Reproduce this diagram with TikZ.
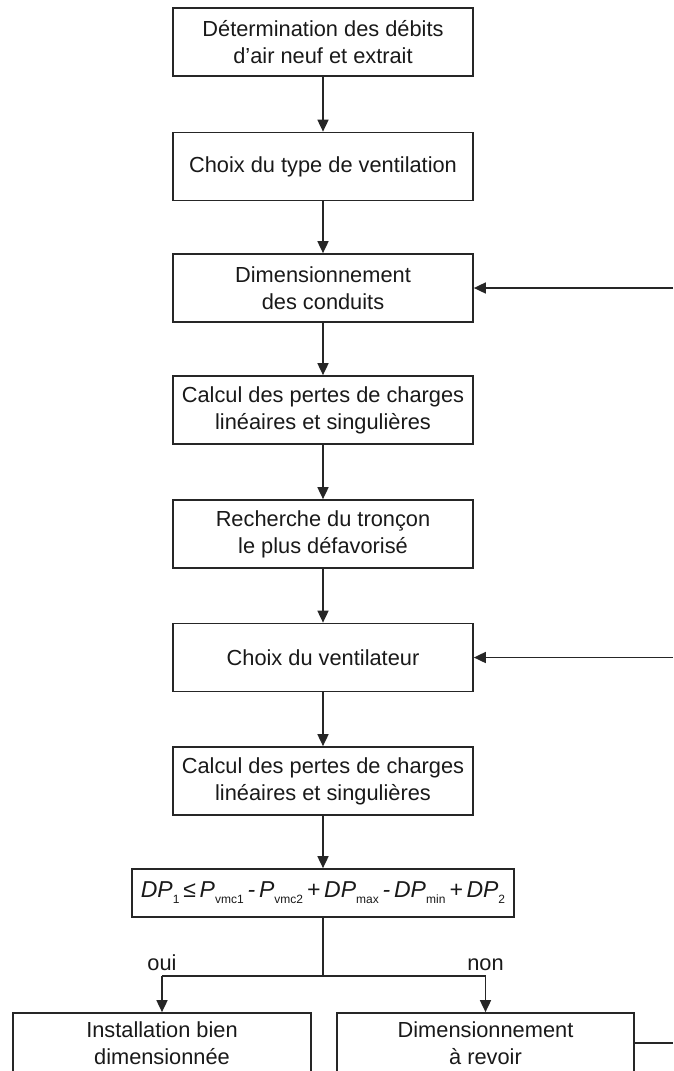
\documentclass[tikz,border=0pt]{standalone}
\usepackage{fontspec}
\setmainfont{Liberation Sans}
\usetikzlibrary{arrows.meta}
\newcommand\sbs[1]{\raisebox{-0.5ex}{\upshape\fontsize{12}{12}\selectfont #1}}
\begin{document}
\begin{tikzpicture}[x=1pt,y=-1pt,
 box/.style={draw=black!85, line width=1.7pt, minimum width=300pt, minimum height=68pt, align=center, font=\fontsize{21.8}{27}\selectfont, text=black!90, inner sep=0pt},
 arr/.style={draw=black!85, line width=1.7pt, -{Triangle[length=12pt,width=11pt]}},
 ln/.style={draw=black!85, line width=1.7pt},
 lab/.style={font=\fontsize{21.8}{25}\selectfont, text=black!90, inner sep=1pt, anchor=south}]
\useasboundingbox (0,0) rectangle (673,1071);
\clip (0,0) rectangle (673,1071);
\node[box] (b1) at (323,42) {Détermination des débits\\d’air neuf et extrait};
\node[box] (b2) at (323,166.5) {Choix du type de ventilation};
\node[box] (b3) at (323,288) {Dimensionnement\\des conduits};
\node[box] (b4) at (323,410) {Calcul des pertes de charges\\linéaires et singulières};
\node[box] (b5) at (323,534) {Recherche du tronçon\\le plus défavorisé};
\node[box] (b6) at (323,657.5) {Choix du ventilateur};
\node[box] (b7) at (323,781) {Calcul des pertes de charges\\linéaires et singulières};
\node[box, minimum width=382pt, minimum height=48pt, font=\fontsize{23}{27}\selectfont] (f) at (323,893)
 {\itshape DP\sbs{1}\,≤\,P\sbs{vmc1}\,-\,P\sbs{vmc2}\,+\,DP\sbs{max}\,-\,DP\sbs{min}\,+\,DP\sbs{2}};
\node[box, minimum width=298pt, minimum height=80pt] (bl) at (162,1053) {Installation bien\\dimensionnée\\[-8pt]\mbox{}};
\node[box, minimum width=297pt, minimum height=80pt] (br) at (485.5,1053) {Dimensionnement\\à revoir\\[-8pt]\mbox{}};
\coordinate (e1) at (673,288);
\coordinate (e2) at (673,657.5);
\coordinate (e3) at (673,1043);
\coordinate (j) at (323,976);
\coordinate (jl) at (162,976);
\coordinate (jr) at (485.5,976);
\draw[arr] (b1) -- (b2);
\draw[arr] (b2) -- (b3);
\draw[arr] (b3) -- (b4);
\draw[arr] (b4) -- (b5);
\draw[arr] (b5) -- (b6);
\draw[arr] (b6) -- (b7);
\draw[arr] (b7) -- (f);
\draw[arr] (e1) -- (b3.east);
\draw[arr] (e2) -- (b6.east);
\draw[ln] (f.south) -- (j);
\draw[ln] (jl) -- (jr);
\draw[arr] (jl) -- (bl.north);
\draw[arr] (jr) -- (br.north);
\draw[ln] (br.east |- e3) -- (e3);
\node[lab] (oui) at (162,972) {oui};
\node[lab] (non) at (485.5,972) {non};
\end{tikzpicture}
\end{document}
